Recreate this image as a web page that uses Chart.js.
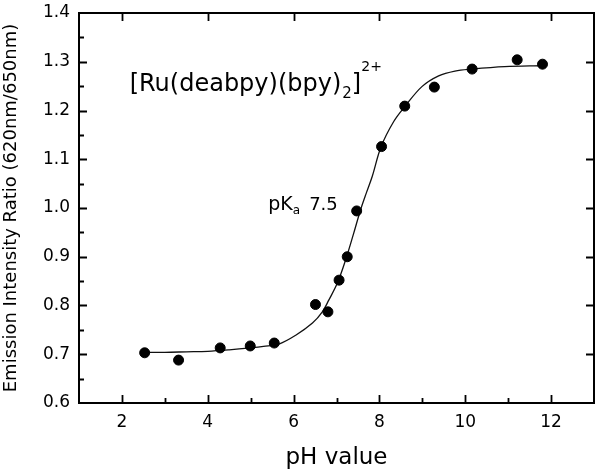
<!DOCTYPE html>
<html>
<head>
<meta charset="utf-8">
<script src="https://cdn.jsdelivr.net/npm/chart.js@4.4.1/dist/chart.umd.min.js"></script>
<style>
  html, body { margin: 0; padding: 0; background: #fff; }
  #wrap { width: 600px; height: 475px; position: relative; }
</style>
</head>
<body>
<div id="wrap"><canvas id="c"></canvas></div>
<script>
// measured data points (pH, emission intensity ratio)
const phValues    = [2.53, 3.32, 4.29, 4.99, 5.55, 6.51, 6.80, 7.06, 7.25, 7.47, 8.05, 8.59, 9.28, 10.16, 11.21, 11.80];
const ratioValues = [0.703, 0.688, 0.713, 0.717, 0.723, 0.802, 0.787, 0.852, 0.900, 0.994, 1.126, 1.209, 1.248, 1.285, 1.304, 1.295];

// fitted sigmoid curve
const fitPh    = [2.53, 3.0, 3.5, 4.0, 4.5, 5.0, 5.3, 5.66, 6.05, 6.44, 6.67, 6.82, 7.02, 7.21, 7.40, 7.56, 7.70, 7.83, 8.04, 8.33, 8.60, 8.99, 9.38, 9.76, 10.15, 10.92, 11.80];
const fitRatio = [0.704, 0.704, 0.705, 0.706, 0.709, 0.713, 0.716, 0.721, 0.739, 0.764, 0.787, 0.811, 0.846, 0.893, 0.948, 0.996, 1.032, 1.064, 1.126, 1.177, 1.209, 1.249, 1.271, 1.281, 1.285, 1.290, 1.292];

// axis ticks
const xLabelTicks = [2, 4, 6, 8, 10, 12];
const xMinorTicks = [3, 5, 7, 9, 11];
const yMajorTicks = [0.7, 0.8, 0.9, 1.0, 1.1, 1.2, 1.3];
const yMinorTicks = [0.65, 0.75, 0.85, 0.95, 1.05, 1.15, 1.25, 1.35];

const FONT = "'DejaVu Sans', sans-serif";

const framePlugin = {
  id: 'frame',
  afterDraw(chart) {
    const { ctx, chartArea: a, scales: { x, y } } = chart;
    ctx.save();
    ctx.strokeStyle = '#000';
    ctx.lineWidth = 2;
    ctx.strokeRect(a.left, a.top, a.right - a.left, a.bottom - a.top);
    ctx.lineWidth = 1.8;
    ctx.beginPath();
    xLabelTicks.forEach(v => {
      const px = Math.round(x.getPixelForValue(v)) + 0.5;
      ctx.moveTo(px, a.bottom); ctx.lineTo(px, a.bottom - 8);
      ctx.moveTo(px, a.top); ctx.lineTo(px, a.top + 8);
    });
    xMinorTicks.forEach(v => {
      const px = Math.round(x.getPixelForValue(v)) + 0.5;
      ctx.moveTo(px, a.bottom); ctx.lineTo(px, a.bottom - 5);
    });
    yMajorTicks.forEach(v => {
      const py = Math.round(y.getPixelForValue(v)) + 0.5;
      ctx.moveTo(a.left, py); ctx.lineTo(a.left + 8, py);
      ctx.moveTo(a.right, py); ctx.lineTo(a.right - 8, py);
    });
    yMinorTicks.forEach(v => {
      const py = Math.round(y.getPixelForValue(v)) + 0.5;
      ctx.moveTo(a.left, py); ctx.lineTo(a.left + 5, py);
    });
    ctx.stroke();

    // annotations
    ctx.fillStyle = '#000';
    ctx.textBaseline = 'alphabetic';
    ctx.textAlign = 'left';
    let tx = x.getPixelForValue(2.18);
    const by = y.getPixelForValue(1.24);
    ctx.font = '24px ' + FONT;
    const t1 = '[Ru(deabpy)(bpy)';
    ctx.fillText(t1, tx, by);
    tx += ctx.measureText(t1).width + 1;
    ctx.font = '15px ' + FONT;
    ctx.fillText('2', tx, by + 7);
    tx += ctx.measureText('2').width;
    ctx.font = '24px ' + FONT;
    ctx.fillText(']', tx, by);
    tx += ctx.measureText(']').width;
    ctx.font = '14px ' + FONT;
    ctx.fillText('2+', tx, by - 20);

    let px2 = x.getPixelForValue(5.41);
    const py2 = y.getPixelForValue(0.996);
    ctx.font = '19px ' + FONT;
    ctx.fillText('pK', px2, py2);
    px2 += ctx.measureText('pK').width;
    ctx.font = '12px ' + FONT;
    ctx.fillText('a', px2, py2 + 4);
    px2 += ctx.measureText('a').width + 9;
    ctx.font = '18px ' + FONT;
    ctx.fillText('7.5', px2, py2);
    ctx.restore();
  }
};

new Chart(document.getElementById('c'), {
  type: 'scatter',
  data: {
    datasets: [
      {
        label: 'fit',
        data: fitPh.map((p, i) => ({ x: p, y: fitRatio[i] })),
        showLine: true,
        borderColor: '#111',
        borderWidth: 1.3,
        pointRadius: 0,
        tension: 0.35,
        order: 2
      },
      {
        label: 'data',
        data: phValues.map((p, i) => ({ x: p, y: ratioValues[i] })),
        showLine: false,
        backgroundColor: '#000',
        borderColor: '#000',
        pointRadius: 5,
        pointHoverRadius: 5,
        order: 1
      }
    ]
  },
  options: {
    responsive: true,
    maintainAspectRatio: false,
    animation: false,
    layout: { padding: { top: 13, right: 6, left: 0, bottom: 0 } },
    plugins: { legend: { display: false }, tooltip: { enabled: false } },
    scales: {
      x: {
        type: 'linear',
        min: 1, max: 13,
        border: { display: false },
        grid: { display: false, drawTicks: false },
        ticks: {
          stepSize: 1, autoSkip: false, maxRotation: 0, padding: 9,
          color: '#000', font: { family: FONT, size: 17 },
          callback: v => xLabelTicks.includes(v) ? String(v) : ''
        },
        title: {
          display: true, text: 'pH value', color: '#000',
          font: { family: FONT, size: 23 }, padding: { top: 0, bottom: 3 }
        },
        afterFit: s => { s.height = 72; s.paddingLeft = 0; s.paddingRight = 0; }
      },
      y: {
        type: 'linear',
        min: 0.6, max: 1.4,
        border: { display: false },
        grid: { display: false, drawTicks: false },
        ticks: {
          stepSize: 0.1, padding: 9, color: '#000',
          font: { family: FONT, size: 17 },
          callback: v => Number(v).toFixed(1)
        },
        title: {
          display: true, text: 'Emission Intensity Ratio (620nm/650nm)', color: '#000',
          font: { family: FONT, size: 18 }, padding: { top: 1, bottom: 0 }
        },
        afterFit: s => { s.width = 79; s.paddingTop = 0; s.paddingBottom = 0; }
      }
    }
  },
  plugins: [framePlugin]
});
</script>
</body>
</html>
